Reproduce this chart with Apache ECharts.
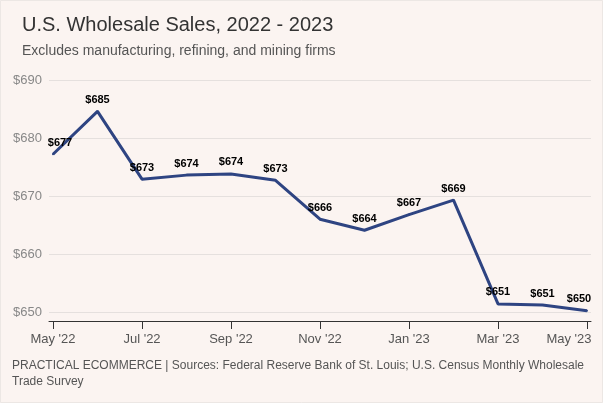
<!DOCTYPE html>
<html>
<head>
<meta charset="utf-8">
<script src="https://cdn.jsdelivr.net/npm/echarts@6/dist/echarts.min.js"></script>
<style>
html,body{margin:0;padding:0;background:#fbf4f1;}
#c{width:603px;height:403px;}
</style>
</head>
<body>
<div id="c"></div>
<script>
const categories = ["May '22","Jun '22","Jul '22","Aug '22","Sep '22","Oct '22","Nov '22","Dec '22","Jan '23","Feb '23","Mar '23","Apr '23","May '23"];
const sales = [677.2, 684.6, 672.9, 673.6, 673.8, 672.7, 666.0, 664.1, 666.8, 669.3, 651.4, 651.2, 650.2];
const xTickIdx = [0, 2, 4, 6, 8, 10, 12];
const yTicks = [650, 660, 670, 680, 690];

const FONT = '"Liberation Sans", Arial, Helvetica, sans-serif';
const chart = echarts.init(document.getElementById('c'));
const last = sales.length - 1;
const data = sales.map((v, i) => [i, v]);
chart.setOption({
  backgroundColor: '#fbf4f1',
  animation: false,
  title: [
    { text: 'U.S. Wholesale Sales, 2022 - 2023', left: 17, top: 10,
      textStyle: { fontFamily: FONT, fontSize: 20, fontWeight: 'normal', color: '#333' } },
    { text: 'Excludes manufacturing, refining, and mining firms', left: 17, top: 39,
      textStyle: { fontFamily: FONT, fontSize: 14, fontWeight: 'normal', color: '#555' } },
    { text: 'PRACTICAL ECOMMERCE | Sources: Federal Reserve Bank of St. Louis; U.S. Census Monthly Wholesale\nTrade Survey',
      left: 7, top: 353,
      textStyle: { fontFamily: FONT, fontSize: 12, fontWeight: 'normal', color: '#555', lineHeight: 16 } }
  ],
  graphic: [{
    type: 'rect', shape: { x: 0.5, y: 0.5, width: 602, height: 402 },
    style: { fill: 'none', stroke: '#ece7e4', lineWidth: 1 }, silent: true
  }],
  grid: { left: 49, right: 12, top: 80, bottom: 91, containLabel: false, outerBoundsMode: 'none' },
  xAxis: {
    type: 'value', min: -0.09, max: last + 0.09, offset: 9,
    axisLine: { show: true, onZero: false, lineStyle: { color: '#333', width: 1 } },
    axisTick: { show: true, length: 8, customValues: xTickIdx, lineStyle: { color: '#333' } },
    axisLabel: { customValues: xTickIdx, color: '#555', fontFamily: FONT, fontSize: 13, margin: 12,
      formatter: v => {
        const i = Math.round(v);
        return i === last ? '{end|' + categories[i] + '}' : categories[i];
      },
      rich: { end: { color: '#555', fontFamily: FONT, fontSize: 13, padding: [0, 36, 0, 0] } } },
    splitLine: { show: false }
  },
  yAxis: {
    type: 'value', min: yTicks[0], max: yTicks[yTicks.length - 1], interval: 10,
    axisLine: { show: false }, axisTick: { show: false },
    axisLabel: { color: '#888', fontFamily: FONT, fontSize: 13, margin: 7,
      formatter: v => '$' + v },
    splitLine: { lineStyle: { color: '#e5e0de', width: 1 } }
  },
  series: [{
    type: 'line', data: data, symbol: 'circle', symbolSize: 2, showSymbol: true,
    lineStyle: { color: '#2e4482', width: 3 },
    itemStyle: { color: '#2e4482' },
    label: { show: true, position: 'top', distance: 5, color: '#000', fontWeight: 'bold',
      fontFamily: FONT, fontSize: 11, formatter: p => '$' + Math.round(p.value[1]) },
    labelLayout: p => {
      if (p.dataIndex === 0) return { dx: 7 };
      if (p.dataIndex === last) return { dx: -8 };
      return {};
    }
  }]
});
</script>
</body>
</html>
